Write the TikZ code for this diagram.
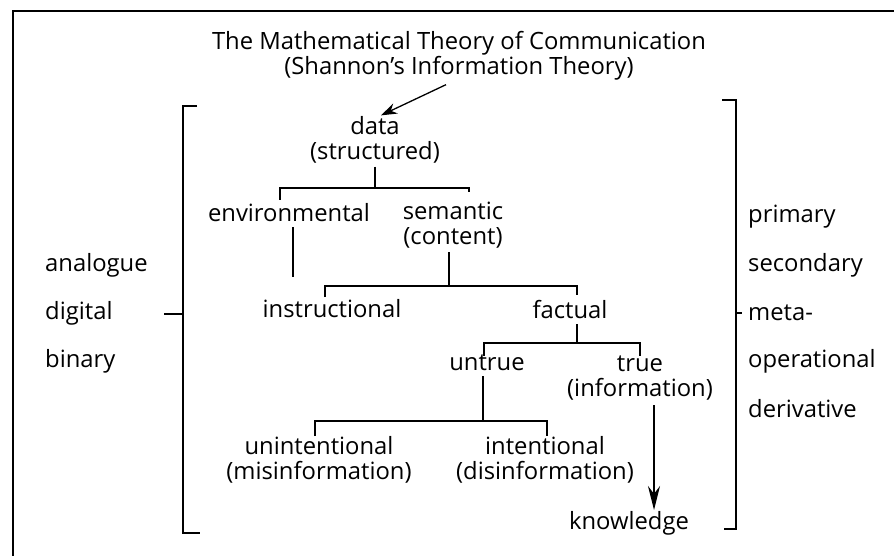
\documentclass[tikz,border=0pt]{standalone}
\usepackage{fontspec}
\setmainfont{Open Sans}
\usetikzlibrary{arrows.meta}

\begin{document}
\begin{tikzpicture}[x=1pt, y=-1pt,
  font=\fontsize{23.8}{25}\selectfont,
  every node/.style={inner sep=0pt, align=center},
  tree/.style={line width=1.3pt},
  brack/.style={line width=1.4pt},
  pointer/.style={line width=1.3pt, -{Stealth[length=16pt, width=11pt]}}]
\useasboundingbox (0,0) rectangle (894,556);

% frame
\draw[line width=1.5pt] (13,556) -- (13,11) -- (894,11);

% nodes
\node (theory) at (459,56) {The Mathematical Theory of Communication\\(Shannon's Information Theory)};
\node (data) at (375,140) {data\\(structured)};
\node (env) at (289,213) {environmental};
\node (sem) at (453,225) {semantic\\(content)};
\node (instr) at (332,309) {instructional};
\node (fact) at (570,310) {factual};
\node (untrue) at (487,363) {untrue};
\node (true) at (640,378) {true\\(information)};
\node (unint) at (319,460) {unintentional\\(misinformation)};
\node (intent) at (545,460) {intentional\\(disinformation)};
\node (know) at (629,523) {knowledge};

\node[anchor=west] (analogue) at (45,265) {analogue};
\node[anchor=west] (digital) at (45,313) {digital};
\node[anchor=west] (binary) at (45,361) {binary};

\node[anchor=west] (primary) at (748,217) {primary};
\node[anchor=west] (secondary) at (748,265) {secondary};
\node[anchor=west] (meta) at (748,313) {meta-};
\node[anchor=west] (operational) at (748,361) {operational};
\node[anchor=west] (derivative) at (748,409) {derivative};

% junctions
\coordinate (j1l) at (280,188);
\coordinate (j1r) at (469,188);
\coordinate (j2l) at (325,286);
\coordinate (j2r) at (577,286);
\coordinate (j3l) at (484,343);
\coordinate (j3r) at (640,343);
\coordinate (j4l) at (315,421);
\coordinate (j4r) at (547,421);
\coordinate (envdrop) at (293,277);
\coordinate (kn) at (654,510);

% arrows
\draw[pointer] (theory.south -| 446,0) ++(0,4) -- ([xshift=6pt,yshift=1pt]data.north);
\draw[pointer, -{Stealth[length=24pt, width=12pt]}] ([yshift=-5pt]true.south -| kn) -- (kn);

% tree
\draw[tree] ([yshift=-3pt]data.south) -- (data.south |- j1l);
\draw[tree] (j1l |- env.north) ++(0,-4) -- (j1l) -- (j1r) -- ++(0,4);
\draw[tree] (envdrop |- env.south) ++(0,5) -- (envdrop);
\draw[tree] ([yshift=-4pt]sem.south -| 449,0) -- (449,286);
\draw[tree] (j2l) ++(0,11) -- (j2l) -- (j2r) -- ++(0,9);
\draw[tree] ([yshift=-5pt]fact.south -| j2r) -- (j2r |- j3l);
\draw[tree] (j3l) ++(0,13) -- (j3l) -- (j3r) -- ++(0,13);
\draw[tree] ([yshift=-5pt]untrue.south -| 483,0) -- (483,421);
\draw[tree] (j4l) ++(0,15) -- (j4l) -- (j4r) -- ++(0,15);

% brackets
\draw[brack] (197,106) -- (183,106) -- (183,533) -- (200,533);
\draw[brack] (164,314) -- (183,314);
\draw[brack] (722,100) -- (736,100) -- (736,529) -- (724,529);
\draw[brack] (736,313) -- (742,313);
\end{tikzpicture}
\end{document}
